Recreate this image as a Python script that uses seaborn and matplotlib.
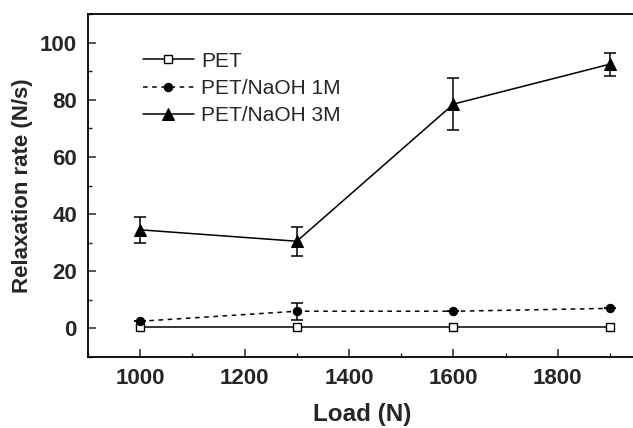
import matplotlib
matplotlib.use("Agg")
import matplotlib.pyplot as plt
import seaborn as sns
import pandas as pd
from matplotlib.ticker import MultipleLocator

load = [1000, 1300, 1600, 1900]
pet = [0.5, 0.5, 0.5, 0.5]
pet_err = [0, 0, 0, 0]
naoh1 = [2.5, 6.0, 6.0, 7.0]
naoh1_err = [0.0, 3.0, 0.0, 0.0]
naoh3 = [34.5, 30.5, 78.5, 92.5]
naoh3_err = [4.5, 5.0, 9.0, 4.0]
labels = ["PET", "PET/NaOH 1M", "PET/NaOH 3M"]

sns.set_theme(style="ticks")
plt.rcParams['font.family'] = ['Liberation Sans', 'DejaVu Sans']

fig = plt.figure(figsize=(6.33, 4.28), dpi=100)
ax = fig.add_axes([0.139, 0.166, 0.866, 0.801])

series = [
    (pet, pet_err, labels[0], dict(marker="s", markersize=6, markerfacecolor="white",
                                   markeredgecolor="black", markeredgewidth=1.0, linestyle="-")),
    (naoh1, naoh1_err, labels[1], dict(marker="o", markersize=6, markerfacecolor="black",
                                       markeredgecolor="black", linestyle=(0, (3, 3)))),
    (naoh3, naoh3_err, labels[2], dict(marker="^", markersize=9, markerfacecolor="black",
                                       markeredgecolor="black", linestyle="-")),
]

for vals, errs, lab, st in series:
    df = pd.DataFrame({"Load": load, "Rate": vals})
    sns.lineplot(data=df, x="Load", y="Rate", ax=ax, color="black", linewidth=1.1,
                 label=lab, **st)
    if any(e > 0 for e in errs):
        ax.errorbar(load, vals, yerr=errs, fmt="none", ecolor="black",
                    elinewidth=1.1, capsize=4, capthick=1.1)

ax.set_xlim(900, 1950)
ax.set_ylim(-10, 110)
ax.xaxis.set_major_locator(MultipleLocator(200))
ax.xaxis.set_minor_locator(MultipleLocator(100))
ax.yaxis.set_minor_locator(MultipleLocator(10))
ax.set_yticks([0, 20, 40, 60, 80, 100])
ax.tick_params(which="major", direction="in", length=6, width=1.1, labelsize=16, pad=8)
ax.tick_params(which="minor", direction="in", length=3, width=1.0)
ax.tick_params(axis="x", which="both", top=False)
ax.tick_params(axis="y", which="both", right=False)
for t in ax.get_xticklabels() + ax.get_yticklabels():
    t.set_fontweight("bold")
for s in ax.spines.values():
    s.set_linewidth(1.3)
    s.set_color("black")

ax.set_xlabel("Load (N)", fontsize=17.5, fontweight="bold", labelpad=10)
ax.set_ylabel("Relaxation rate (N/s)", fontsize=16, fontweight="bold", labelpad=5)

leg = ax.legend(loc="upper left", bbox_to_anchor=(0.085, 0.915), frameon=False,
                fontsize=15, handlelength=2.45, handletextpad=0.35, labelspacing=0.4,
                borderaxespad=0)

fig.savefig("out.png", dpi=100)
